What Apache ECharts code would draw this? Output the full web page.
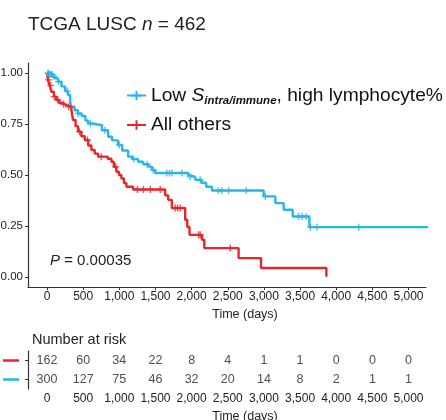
<!DOCTYPE html>
<html>
<head>
<meta charset="utf-8">
<script src="https://cdn.jsdelivr.net/npm/echarts@6/dist/echarts.min.js"></script>
<style>
  html, body { margin: 0; padding: 0; background: #fff; }
  #chart { width: 446px; height: 420px; }
</style>
</head>
<body>
<div id="chart"></div>
<script>
// KM curve of the blue group (time in days, survival after each drop)
var blueTime = [0, 40, 83, 110, 152, 200, 250, 291, 320, 337, 380, 429, 480, 530, 568, 620, 706, 760, 845, 900, 983, 1040, 1122, 1180, 1260, 1330, 1399, 1450, 1496, 1953, 1980, 2050, 2133, 2202, 2281, 2996, 3158, 3273, 3398, 3629, 5277];
var blueSurv = [1.0, 0.993, 0.985, 0.975, 0.958, 0.935, 0.912, 0.893, 0.86, 0.835, 0.818, 0.802, 0.79, 0.768, 0.753, 0.748, 0.745, 0.72, 0.688, 0.67, 0.647, 0.62, 0.59, 0.578, 0.565, 0.553, 0.541, 0.525, 0.51, 0.50, 0.491, 0.477, 0.462, 0.442, 0.424, 0.395, 0.362, 0.329, 0.296, 0.244, 0.244];
var blueCensor = [10, 25, 40, 55, 70, 90, 160, 280, 430, 600, 800, 1000, 1200, 1385, 1468, 1658, 1694, 1727, 1866, 1980, 2119, 2373, 2419, 2511, 2756, 3019, 3480, 3528, 3583, 3643, 3735, 4312];

// KM curve of the red group
var redTime = [0, 14, 35, 60, 95, 129, 165, 198, 250, 291, 337, 360, 395, 429, 475, 522, 570, 614, 660, 706, 840, 891, 925, 960, 995, 1029, 1065, 1098, 1191, 1634, 1676, 1727, 1911, 1940, 1971, 2143, 2175, 2650, 2960, 3864];
var redSurv = [1.0, 0.967, 0.94, 0.909, 0.885, 0.868, 0.855, 0.847, 0.84, 0.835, 0.819, 0.77, 0.74, 0.713, 0.69, 0.672, 0.645, 0.623, 0.605, 0.59, 0.58, 0.565, 0.54, 0.516, 0.50, 0.483, 0.46, 0.442, 0.429, 0.40, 0.378, 0.338, 0.28, 0.245, 0.206, 0.182, 0.141, 0.092, 0.043, 0.0];
var redCensor = [20, 50, 100, 150, 230, 300, 450, 560, 750, 950, 1250, 1334, 1430, 1565, 1773, 1805, 1842, 2096, 2119, 2535];

// number at risk table
var riskTimes = [0, 500, 1000, 1500, 2000, 2500, 3000, 3500, 4000, 4500, 5000];
var riskRed = [162, 60, 34, 22, 8, 4, 1, 1, 0, 0, 0];
var riskBlue = [300, 127, 75, 46, 32, 20, 14, 8, 2, 1, 1];

var xTicks = [0, 500, 1000, 1500, 2000, 2500, 3000, 3500, 4000, 4500, 5000];
var yTicks = [0, 0.25, 0.5, 0.75, 1];

var BLUE = '#29b5e8', RED = '#e8262a';
var FONT = 'Liberation Sans';
var blueName = 'Low S intra/immune, high lymphocyte%';
var redName = 'All others';
var plus = 'path://M4,0H6V4H10V6H6V10H4V6H0V4H4Z';

function survAt(times, surv, t) {
    var s = surv[0];
    for (var i = 0; i < times.length; i++) {
        if (times[i] <= t) s = surv[i];
    }
    return s;
}
function pairs(times, surv) {
    return times.map(function (t, i) { return [t, surv[i]]; });
}
function censorPts(c, times, surv) {
    return c.map(function (t) { return [t, survAt(times, surv, t)]; });
}
function comma(v) {
    return String(v).replace(/\B(?=(\d{3})+(?!\d))/g, ',');
}

var riskData = [];
for (let i = 0; i < riskTimes.length; i++) {
    riskData.push([riskTimes[i], 1, riskRed[i]]);
    riskData.push([riskTimes[i], 0, riskBlue[i]]);
}

var axisCol = '#333';
function xAxisOf(idx, gap) {
    return {
        type: 'value', gridIndex: idx, min: -263, max: 5242,
        axisLine: {onZero: false, lineStyle: {color: axisCol, width: 1.2}},
        axisTick: {customValues: xTicks, length: 3, lineStyle: {color: axisCol}},
        axisLabel: {customValues: xTicks, formatter: comma, fontSize: 12, color: '#222', fontFamily: FONT, margin: 4},
        splitLine: {show: false},
        name: 'Time (days)', nameLocation: 'middle', nameGap: gap,
        nameTextStyle: {fontSize: 12.5, color: '#222', fontFamily: FONT, padding: [0, 0, 0, 36]}
    };
}
var normal = {fontSize: 19, fontFamily: FONT, color: '#222', fontWeight: 'normal'};
var legendFont = {fontSize: 19.2, fontFamily: FONT, color: '#111'};

var chart = echarts.init(document.getElementById('chart'));
var option = {
    animation: false,
    title: [
        {text: '{a|TCGA LUSC }{i|n}{a| = 462}', left: 23, top: 10,
         textStyle: {fontWeight: 'normal', rich: {a: normal, i: Object.assign({}, normal, {fontStyle: 'italic'})}}},
        {text: '{i|P}{a| = 0.00035}', left: 45, top: 248,
         textStyle: {fontWeight: 'normal', rich: {a: Object.assign({}, normal, {fontSize: 15}), i: Object.assign({}, normal, {fontSize: 15, fontStyle: 'italic'})}}},
        {text: 'Number at risk', left: 27, top: 327,
         textStyle: {fontSize: 14.5, fontFamily: FONT, color: '#222', fontWeight: 'normal'}}
    ],
    legend: {
        data: [blueName, redName], orient: 'vertical', left: 126, top: 86,
        itemGap: 9, itemWidth: 19, itemHeight: 12, padding: 0,
        formatter: function (name) {
            return name === blueName ? '{a|Low }{i|S}{s|intra/immune}{a|, high lymphocyte%}' : '{a|' + name + '}';
        },
        textStyle: {
            fontSize: 19.2, fontFamily: FONT, color: '#111',
            rich: {
                a: legendFont,
                i: Object.assign({}, legendFont, {fontStyle: 'italic'}),
                s: {fontSize: 11.5, fontFamily: FONT, color: '#111', fontStyle: 'italic', fontWeight: 'bold', verticalAlign: 'bottom', padding: [10, 0, 0, 0]}
            }
        }
    },
    grid: [
        {left: 28, right: 20, top: 63, height: 224, outerBoundsMode: 'none'},
        {left: 28, right: 20, top: 351, height: 38, outerBoundsMode: 'none'}
    ],
    xAxis: [xAxisOf(0, 18), xAxisOf(1, 21)],
    yAxis: [
        {type: 'value', gridIndex: 0, min: -0.05, max: 1.05,
         axisLine: {show: true, onZero: false, lineStyle: {color: axisCol, width: 1.2}},
         axisTick: {show: true, customValues: yTicks, length: 3, lineStyle: {color: axisCol}},
         axisLabel: {customValues: yTicks, formatter: function (v) { return v.toFixed(2); }, fontSize: 11.5, color: '#222', fontFamily: FONT, margin: 5},
         splitLine: {show: false}},
        {type: 'category', gridIndex: 1, data: ['blue', 'red'],
         axisLine: {show: true, onZero: false, lineStyle: {color: axisCol, width: 1.2}},
         axisTick: {show: true, alignWithLabel: true, length: 3, lineStyle: {color: axisCol}},
         axisLabel: {margin: 9, formatter: function (v) { return '{' + v + '| }'; },
                     rich: {red: {width: 16, height: 2.5, fontSize: 1, backgroundColor: RED},
                            blue: {width: 16, height: 2.5, fontSize: 1, backgroundColor: BLUE}}}}
    ],
    series: [
        {name: blueName, type: 'line', step: 'end', data: pairs(blueTime, blueSurv), symbol: plus, showSymbol: false,
         lineStyle: {color: BLUE, width: 2.4}, itemStyle: {color: BLUE}, z: 3},
        {name: redName, type: 'line', step: 'end', data: pairs(redTime, redSurv), symbol: plus, showSymbol: false,
         lineStyle: {color: RED, width: 2.4}, itemStyle: {color: RED}, z: 3},
        {name: 'blueCensor', type: 'scatter', data: censorPts(blueCensor, blueTime, blueSurv), symbol: plus, symbolSize: 7,
         itemStyle: {color: BLUE}, z: 4},
        {name: 'redCensor', type: 'scatter', data: censorPts(redCensor, redTime, redSurv), symbol: plus, symbolSize: 7,
         itemStyle: {color: RED}, z: 4},
        {name: 'risk', type: 'scatter', xAxisIndex: 1, yAxisIndex: 1, data: riskData, symbolSize: 1,
         itemStyle: {color: 'transparent'},
         label: {show: true, position: 'inside', formatter: function (p) { return p.value[2]; },
                 fontSize: 12.5, color: '#222', fontFamily: FONT}}
    ]
};
chart.setOption(option);
</script>
</body>
</html>
